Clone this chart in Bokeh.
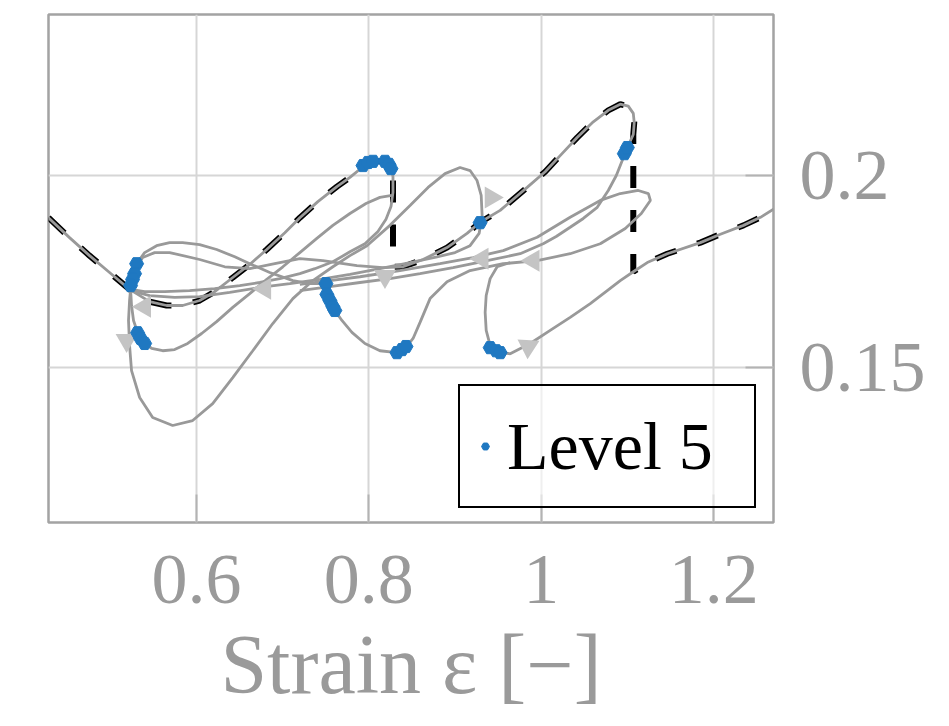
from bokeh.plotting import figure
from bokeh.models import Range1d, FixedTicker, Legend, LegendItem
from bokeh.embed import file_html
from bokeh.resources import INLINE

# ---------------- axes ----------------
X_MIN, X_MAX = 0.4285, 1.2693
Y_MIN, Y_MAX = 0.1095, 0.2420
x_ticks = [0.6, 0.8, 1.0, 1.2]
x_tick_labels = ["0.6", "0.8", "1", "1.2"]
y_ticks = [0.15, 0.2]
y_tick_labels = ["0.15", "0.2"]

# ---------------- trajectories (strain, response) ----------------
# branch 1 (stable, dashed)
b1_x = [0.4285, 0.4529, 0.4761, 0.4993, 0.5225, 0.5458, 0.5655, 0.5841, 0.6038, 0.6213, 0.6422, 0.6619,
        0.6816, 0.7026, 0.7200, 0.7409, 0.7630, 0.7781, 0.7932, 0.8048, 0.8187, 0.8257, 0.8280]
b1_y = [0.1890, 0.1838, 0.1791, 0.1747, 0.1703, 0.1671, 0.1661, 0.1661, 0.1674, 0.1697, 0.1734, 0.1768,
        0.1807, 0.1851, 0.1890, 0.1932, 0.1971, 0.1995, 0.2023, 0.2037, 0.2037, 0.2023, 0.1997]
# branch 2 (stable, dashed)
b2_x = [0.8396, 0.8629, 0.8907, 0.9139, 0.9291, 0.9523, 0.9836, 1.0045, 1.0219, 1.0416, 1.0603, 1.0777,
        1.0916, 1.1009, 1.1067, 1.1078, 1.1067]
b2_y = [0.1762, 0.1781, 0.1812, 0.1849, 0.1878, 0.1909, 0.1969, 0.2010, 0.2052, 0.2099, 0.2140, 0.2170,
        0.2186, 0.2181, 0.2162, 0.2138, 0.2107]
# branch 3 (stable, dashed)
b3_x = [1.1229, 1.1462, 1.1845, 1.2077, 1.2345, 1.2542, 1.2693]
b3_y = [0.1773, 0.1796, 0.1825, 0.1847, 0.1870, 0.1891, 0.1912]
# jumps between branches (strain, lower end)
jump_x = [0.8280, 1.1067]
jump_y = [0.1762, 0.1749]

# transient paths
g2_x = [0.8280, 0.8280, 0.8257, 0.8199, 0.8106, 0.7955, 0.7781, 0.7583, 0.7374, 0.7200, 0.6968, 0.6735,
        0.6503, 0.6212, 0.5922, 0.5632, 0.5400, 0.5237]
g2_y = [0.1997, 0.1956, 0.1919, 0.1886, 0.1854, 0.1822, 0.1801, 0.1775, 0.1757, 0.1744, 0.1731, 0.1721,
        0.1713, 0.1705, 0.1700, 0.1697, 0.1697, 0.1703]

big_x = [0.5237, 0.5225, 0.5213, 0.5225, 0.5248, 0.5342, 0.5493, 0.5725, 0.5957, 0.6189, 0.6422, 0.6654,
         0.6886, 0.7119, 0.7351, 0.7583, 0.7781, 0.7978, 0.8245, 0.8478, 0.8687, 0.8884, 0.9058, 0.9174,
         0.9255, 0.9303, 0.9314, 0.9279, 0.9174, 0.9000, 0.8791, 0.8478, 0.8129, 0.7781, 0.7432, 0.7084,
         0.6735, 0.6387, 0.6038, 0.5748, 0.5458, 0.5237]
big_y = [0.1703, 0.1674, 0.1622, 0.1557, 0.1491, 0.1421, 0.1369, 0.1348, 0.1361, 0.1405, 0.1473, 0.1543,
         0.1614, 0.1679, 0.1726, 0.1762, 0.1791, 0.1817, 0.1870, 0.1922, 0.1969, 0.2005, 0.2021, 0.2013,
         0.1987, 0.1948, 0.1896, 0.1849, 0.1817, 0.1799, 0.1788, 0.1773, 0.1757, 0.1742, 0.1729, 0.1718,
         0.1708, 0.1695, 0.1684, 0.1682, 0.1687, 0.1700]

low_x = [0.5237, 0.5248, 0.5271, 0.5318, 0.5377, 0.5481, 0.5609, 0.5748, 0.5899, 0.6061, 0.6235, 0.6422,
         0.6619, 0.6816, 0.7003, 0.7200, 0.7397, 0.7583, 0.7781, 0.7967, 0.8129, 0.8268]
low_y = [0.1703, 0.1661, 0.1622, 0.1591, 0.1567, 0.1549, 0.1543, 0.1546, 0.1562, 0.1588, 0.1619, 0.1656,
         0.1692, 0.1729, 0.1762, 0.1799, 0.1836, 0.1870, 0.1901, 0.1927, 0.1943, 0.1948]

u1_x = [0.5237, 0.5260, 0.5307, 0.5400, 0.5539, 0.5690, 0.5841, 0.6038, 0.6235, 0.6445, 0.6619, 0.6851,
        0.7119, 0.7316, 0.7502, 0.7525, 0.7560, 0.7606, 0.7688, 0.7804, 0.7955, 0.8129, 0.8326, 0.8431,
        0.8513, 0.8594, 0.8710, 0.8907, 0.9174, 0.9558, 0.9952, 1.0335, 1.0684, 1.0974, 1.1160, 1.1265,
        1.1242, 1.1125, 1.0916, 1.0684, 1.0335, 0.9952, 0.9558, 0.9209, 0.8826, 0.8361, 0.7897, 0.7548,
        0.7200]
u1_y = [0.1703, 0.1729, 0.1770, 0.1799, 0.1817, 0.1825, 0.1825, 0.1820, 0.1807, 0.1788, 0.1770, 0.1747,
        0.1726, 0.1718, 0.1718, 0.1700, 0.1674, 0.1648, 0.1622, 0.1591, 0.1562, 0.1543, 0.1538, 0.1552,
        0.1575, 0.1617, 0.1679, 0.1723, 0.1752, 0.1770, 0.1778, 0.1796, 0.1822, 0.1862, 0.1901, 0.1935,
        0.1953, 0.1961, 0.1953, 0.1935, 0.1891, 0.1839, 0.1804, 0.1786, 0.1770, 0.1752, 0.1736, 0.1726,
        0.1716]

u2_head_x = [0.5237, 0.5295, 0.5377, 0.5516, 0.5690, 0.6038, 0.6329, 0.6619, 0.6909, 0.7200, 0.7467,
             0.7862, 0.8164]
u2_head_y = [0.1703, 0.1757, 0.1786, 0.1799, 0.1799, 0.1781, 0.1762, 0.1757, 0.1770, 0.1783, 0.1778,
             0.1765, 0.1760]
u2_tail_x = [1.0998, 1.0939, 1.0870, 1.0777, 1.0649, 1.0487, 1.0335, 1.0173, 1.0022, 0.9755, 0.9372,
             0.8977, 0.8594, 0.8245, 0.7897, 0.7548, 0.7200]
u2_tail_y = [0.2073, 0.2039, 0.2000, 0.1961, 0.1917, 0.1888, 0.1865, 0.1841, 0.1822, 0.1796, 0.1778,
             0.1760, 0.1744, 0.1731, 0.1721, 0.1710, 0.1700]

last_x = [0.9639, 0.9488, 0.9407, 0.9361, 0.9349, 0.9361, 0.9407, 0.9488, 0.9639, 0.9871, 1.0103, 1.0335,
          1.0568, 1.0765, 1.0916, 1.1067]
last_y = [0.1773, 0.1762, 0.1731, 0.1687, 0.1643, 0.1596, 0.1557, 0.1541, 0.1535, 0.1562, 0.1596, 0.1630,
          0.1666, 0.1700, 0.1726, 0.1749]

# direction arrows
arrow_x = [0.5191, 0.5400, 0.6793, 0.8187, 0.9418, 0.9314, 0.9906, 0.9848]
arrow_y = [0.1570, 0.1658, 0.1705, 0.1737, 0.1943, 0.1783, 0.1778, 0.1554]
arrow_deg = [180, 90, 90, 180, -90, 90, 90, -63]

# Level 5 points
lv5_x = [0.5307, 0.5283, 0.5260, 0.5237, 0.5318, 0.5353, 0.5400, 0.7932, 0.7990, 0.8048, 0.8187, 0.8233,
         0.8257, 0.7502, 0.7513, 0.7548, 0.7583, 0.7606, 0.8326, 0.8384, 0.8431, 0.9290, 0.9407, 0.9477,
         0.9523, 1.0963, 1.0998]
lv5_y = [0.1770, 0.1744, 0.1729, 0.1713, 0.1590, 0.1575, 0.1562, 0.2026, 0.2034, 0.2037, 0.2037, 0.2029,
         0.2018, 0.1718, 0.1690, 0.1674, 0.1658, 0.1648, 0.1538, 0.1546, 0.1554, 0.1877, 0.1551, 0.1543,
         0.1538, 0.2057, 0.2073]

# ---------------- figure ----------------
GRAY_TXT = "#9a9a9a"
FONT = "Liberation Serif"

p = figure(width=949, height=726, x_range=Range1d(X_MIN, X_MAX), y_range=Range1d(Y_MIN, Y_MAX),
           output_backend="svg", toolbar_location=None, y_axis_location="right",
           min_border_left=48, min_border_right=176, min_border_top=14, min_border_bottom=204,
           background_fill_color="white", border_fill_color="white")
p.outline_line_color = "#a3a3a3"
p.outline_line_width = 2.5

xt = FixedTicker(ticks=x_ticks)
yt = FixedTicker(ticks=y_ticks)


def style_axis(ax, ticker, overrides):
    ax.ticker = ticker
    ax.axis_line_color = None
    ax.major_tick_in = 28
    ax.major_tick_out = 0
    ax.major_tick_line_color = "#b3b3b3"
    ax.major_tick_line_width = 2
    ax.minor_tick_line_color = None
    ax.major_label_overrides = overrides
    ax.major_label_text_font = FONT
    ax.major_label_text_font_size = "72px"
    ax.major_label_text_color = GRAY_TXT


xax = p.xaxis[0]
yax = p.yaxis[0]
style_axis(xax, xt, dict(zip(x_ticks, x_tick_labels)))
style_axis(yax, yt, dict(zip(y_ticks, y_tick_labels)))
xax.major_label_standoff = 33
yax.major_label_standoff = 26
xax.axis_label = "Strain ε [−]"
xax.axis_label_text_font = FONT
xax.axis_label_text_font_size = "84px"
xax.axis_label_text_font_style = "normal"
xax.axis_label_text_color = GRAY_TXT
xax.axis_label_standoff = 12

p.xgrid.ticker = xt
p.ygrid.ticker = yt
p.grid.grid_line_color = "#d6d6d6"
p.grid.grid_line_width = 2

# black dashed stable path with jumps
bd_x = b1_x + [jump_x[0]] + b2_x + [jump_x[1]] + b3_x
bd_y = b1_y + [jump_y[0]] + b2_y + [jump_y[1]] + b3_y
p.line(bd_x, bd_y, line_color="black", line_width=6, line_dash="22 22")

# gray trajectories
xs = [b1_x + g2_x, big_x, low_x, u1_x, u2_head_x + b2_x + u2_tail_x, last_x + b3_x]
ys = [b1_y + g2_y, big_y, low_y, u1_y, u2_head_y + b2_y + u2_tail_y, last_y + b3_y]
p.multi_line(xs=xs, ys=ys, line_color="#999999", line_width=2.8)

# arrows
p.scatter(arrow_x, arrow_y, marker="triangle", size=22, angle=arrow_deg, angle_units="deg",
          fill_color="#c4c4c4", line_color=None)

# level 5 markers
lv = p.scatter(lv5_x, lv5_y, marker="hex", size=14, fill_color="#1f78c1", line_color="#1f78c1")

leg = Legend(items=[LegendItem(label="Level 5", renderers=[lv])], location=(410, 14),
             padding=10, margin=0, glyph_width=30, glyph_height=20, label_standoff=7,
             label_width=237, label_height=100, label_text_font=FONT,
             label_text_font_size="68px", label_text_color="black",
             border_line_color="black", border_line_width=2.5, border_line_alpha=1.0,
             background_fill_color="white", background_fill_alpha=0.6)
p.add_layout(leg, "center")

open("out.html", "w").write(file_html(p, INLINE))
